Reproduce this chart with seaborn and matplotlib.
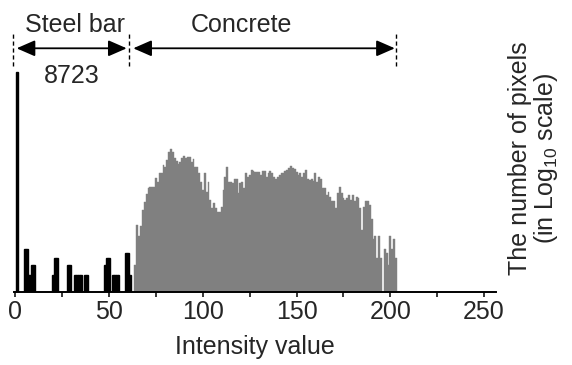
import matplotlib
matplotlib.use("Agg")
import matplotlib.pyplot as plt
import seaborn as sns

# ---------------- data ----------------
steel_intensity = [1, 5, 6, 7, 8, 9, 10, 20, 21, 22, 28, 29, 32, 33, 34, 35, 37, 38,
                   48, 49, 50, 52, 53, 54, 55, 59, 60, 61]
steel_count = [8723, 6, 6, 2, 2, 3, 3, 2, 4, 4, 3, 3, 2, 2, 2, 2, 2, 2,
               3, 4, 4, 2, 2, 2, 2, 5, 5, 2]

concrete_intensity = list(range(64, 204))
concrete_count = [
    3, 16, 10, 15, 30, 41, 58, 72, 75, 77,          # 64-73
    77, 112, 95, 134, 134, 189, 177, 232, 325, 360,  # 74-83
    325, 249, 226, 197, 216, 249, 274, 249, 259, 259,  # 84-93
    216, 239, 177, 171, 134, 95, 67, 134, 63, 95,    # 94-103
    44, 32, 39, 32, 27, 27, 34, 67, 117, 176,        # 104-113
    95, 95, 90, 104, 108, 60, 90, 95, 72, 137,       # 114-123
    116, 124, 154, 150, 143, 143, 143, 124, 150, 150,  # 124-133
    116, 134, 150, 134, 116, 104, 116, 124, 134, 137,  # 134-143
    150, 154, 164, 181, 164, 159, 143, 124, 134, 114,  # 144-153
    134, 154, 108, 101, 108, 99, 134, 92, 114, 104,  # 154-163
    72, 72, 55, 63, 51, 42, 42, 32, 59, 77,          # 164-173
    59, 48, 45, 48, 55, 45, 55, 42, 51, 48,          # 174-183
    32, 13, 34, 42, 42, 36, 20, 9, 10, 4,            # 184-193
    10, 4, 1, 6, 5, 3, 10, 6, 9, 4,                  # 194-203
]

major_ticks = [0, 50, 100, 150, 200, 250]
minor_ticks = [25, 75, 125, 175, 225]
steel_label = "Steel bar"
concrete_label = "Concrete"
peak_label = "8723"
x_label = "Intensity value"
y_label = "The number of pixels\n(in Log$\\mathregular{_{10}}$ scale)"

# ---------------- style ----------------
sns.set_style("ticks")
plt.rcParams["font.family"] = ["Liberation Sans", "DejaVu Sans"]
plt.rcParams["mathtext.fontset"] = "custom"
plt.rcParams["mathtext.rm"] = "Liberation Sans"
FS = 18

fig = plt.figure(figsize=(5.72, 3.65), dpi=100)
ax = fig.add_axes([14 / 572, 73 / 365, (495.7 - 14) / 572, 272 / 365])

sns.histplot(x=concrete_intensity, weights=concrete_count, discrete=True,
             color="#808080", edgecolor="#808080", linewidth=0.3, alpha=1, ax=ax)
sns.histplot(x=steel_intensity, weights=steel_count, discrete=True,
             color="black", edgecolor="black", linewidth=1.0, alpha=1, ax=ax)

ax.set_yscale("log")
ax.set_ylim(1, 75000)
ax.set_xlim(-0.7, 256.2)
ax.set_yticks([])
ax.yaxis.set_minor_locator(matplotlib.ticker.NullLocator())
ax.set_ylabel("")
for s in ["left", "right", "top"]:
    ax.spines[s].set_visible(False)
ax.spines["bottom"].set_linewidth(1.4)
ax.spines["bottom"].set_color("black")

ax.set_xticks(major_ticks)
ax.set_xticks(minor_ticks, minor=True)
ax.tick_params(axis="x", which="both", direction="out", length=3.8, width=1.1,
               color="black", labelsize=FS, pad=2)
ax.set_xlabel(x_label, fontsize=FS, labelpad=8)

fig.text(534 / 572, 1 - 158 / 365, y_label, rotation=90, ha="center", va="center",
         fontsize=FS, multialignment="center", linespacing=1.0)

# ---------------- annotations ----------------
trans = ax.get_xaxis_transform()
arrow_kw = dict(arrowstyle="<|-|>,head_length=0.8,head_width=0.35", mutation_scale=14,
                lw=1.3, color="black", shrinkA=0, shrinkB=0)
y_arrow = (292 - 48.3) / 272
ax.annotate("", xy=(59.4, y_arrow), xytext=(0.7, y_arrow), xycoords=trans,
            textcoords=trans, arrowprops=arrow_kw, annotation_clip=False)
ax.annotate("", xy=(202.4, y_arrow), xytext=(62.9, y_arrow), xycoords=trans,
            textcoords=trans, arrowprops=arrow_kw, annotation_clip=False)

for xv in [-1.07, 60.8, 203.0]:
    ax.plot([xv, xv], [(292 - 66) / 272, (292 - 34) / 272], transform=trans,
            ls=(0, (3, 2)), lw=1.0, color="black", clip_on=False)

y_text = (292 - 32.3) / 272
ax.text(31.7, y_text, steel_label, transform=trans, ha="center", va="baseline",
        fontsize=FS, clip_on=False)
ax.text(120.8, y_text, concrete_label, transform=trans, ha="center", va="baseline",
        fontsize=FS, clip_on=False)
ax.text(29.9, (292 - 83.3) / 272, peak_label, transform=trans, ha="center",
        va="baseline", fontsize=FS, clip_on=False)

fig.savefig("out.png", dpi=100)
